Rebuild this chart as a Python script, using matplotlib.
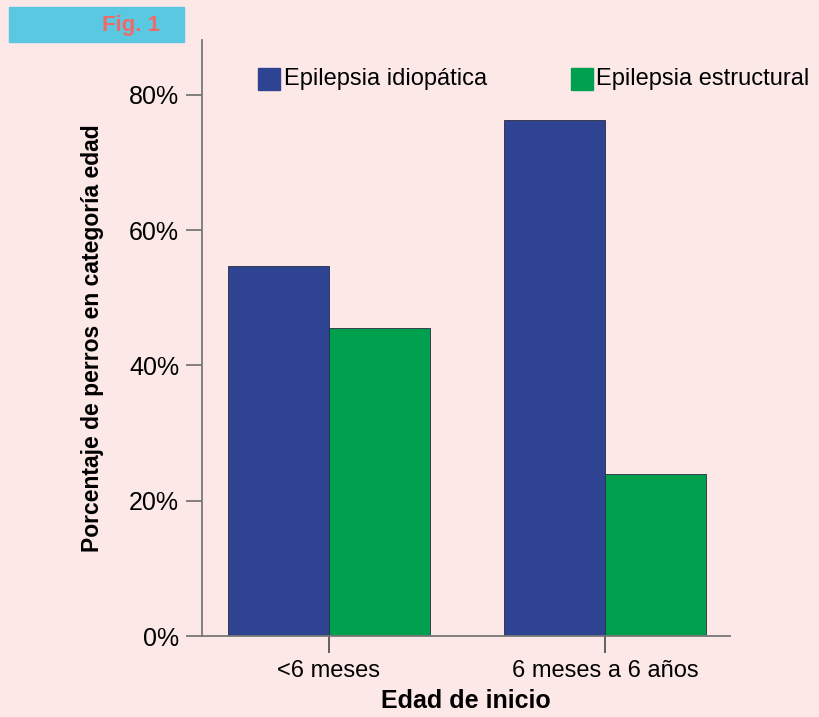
import matplotlib.pyplot as plt
from matplotlib.patches import Rectangle
from matplotlib.ticker import FuncFormatter

plt.rcParams['font.family'] = ['Liberation Sans', 'DejaVu Sans']

categories = ['<6 meses', '6 meses a 6 años']
idiopatica = [54.7, 76.3]
estructural = [45.5, 24.0]
series_names = ['Epilepsia idiopática', 'Epilepsia estructural']
colors = ['#2e4391', '#00a04f']
yticks = [0, 20, 40, 60, 80]

bg = '#fde8e8'
W, H = 820, 717
fig = plt.figure(figsize=(W / 100, H / 100), dpi=100, facecolor=bg)

# axes box in pixel coordinates
left, right, bottom, top = 202, 730, 636, 40
ax = fig.add_axes([left / W, 1 - bottom / H, (right - left) / W, (bottom - top) / H])
ax.set_facecolor(bg)

x = list(range(len(categories)))
w = 0.366
ax.bar([i - w / 2 for i in x], idiopatica, width=w, color=colors[0],
       edgecolor='#2a2a40', linewidth=0.6, label=series_names[0])
ax.bar([i + w / 2 for i in x], estructural, width=w, color=colors[1],
       edgecolor='#2a2a40', linewidth=0.6, label=series_names[1])

ax.set_xlim(-0.46, 1.453)
ax.set_ylim(0, 88.1)

for s in ['top', 'right']:
    ax.spines[s].set_visible(False)
for s in ['left', 'bottom']:
    ax.spines[s].set_color('#777777')
    ax.spines[s].set_linewidth(1.3)

ax.set_yticks(yticks)
ax.yaxis.set_major_formatter(FuncFormatter(lambda v, p: f'{v:.0f}%'))
ax.set_xticks(x)
ax.set_xticklabels(categories)
ax.tick_params(axis='y', length=11.5, width=1.3, color='#777777', labelsize=18, pad=5)
ax.tick_params(axis='x', length=12, width=1.3, color='#555555', labelsize=17, pad=5)

ax.set_ylabel('Porcentaje de perros en categoría edad', fontsize=16.5,
              fontweight='bold', labelpad=18)
ax.set_xlabel('Edad de inicio', fontsize=18, fontweight='bold', labelpad=5)

# legend squares and labels along the top
for sx, tx, c, name in [(258, 284, colors[0], series_names[0]),
                        (571, 596, colors[1], series_names[1])]:
    fig.patches.append(Rectangle((sx / W, 1 - 90 / H), 22 / W, 22 / H,
                                 transform=fig.transFigure, color=c))
    fig.text(tx / W, 1 - 79 / H, name, fontsize=17, va='center', ha='left')

# figure tag
fig.patches.append(Rectangle((9 / W, 1 - 42 / H), 175 / W, 35 / H,
                             transform=fig.transFigure, color='#5bc8e2'))
fig.text(160 / W, 1 - 25 / H, 'Fig. 1', fontsize=16, fontweight='bold',
         color='#f06a6a', ha='right', va='center')

fig.savefig('out.png', dpi=100, facecolor=bg)
